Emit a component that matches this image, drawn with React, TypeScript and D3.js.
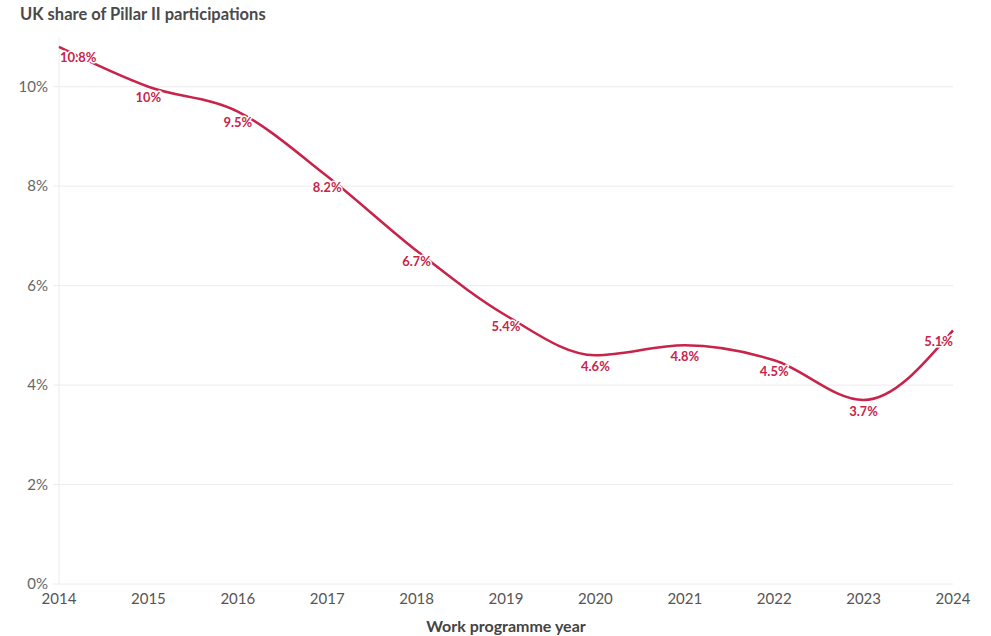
import React from "react";
import * as d3 from "d3";

const years = [2014, 2015, 2016, 2017, 2018, 2019, 2020, 2021, 2022, 2023, 2024];
const shares = [10.8, 10, 9.5, 8.2, 6.7, 5.4, 4.6, 4.8, 4.5, 3.7, 5.1];
const yTicks = [0, 2, 4, 6, 8, 10];
const title = "UK share of Pillar II participations";
const xTitle = "Work programme year";

const W = 991, H = 636;
const M = { left: 59, right: 38, top: 37, bottom: 52 };
const RED = "#c8234a";
const FONT = "Lato, 'Open Sans', sans-serif";

export default function App() {
  const x = d3.scaleLinear().domain([2014, 2024]).range([M.left, W - M.right]);
  const y = d3.scaleLinear().domain([0, 11]).range([H - M.bottom, M.top]);
  const pts = years.map((yr, i) => [x(yr), y(shares[i])] as [number, number]);
  const line = d3.line().curve(d3.curveMonotoneX)(pts) || "";

  return (
    <svg width={W} height={H} style={{ position: "absolute", left: 0, top: 0, fontFamily: FONT }}>
      <rect width={W} height={H} fill="#fff" />
      <text x={20} y={20} fontSize={16.5} fontWeight={700} fill="#4a4a4a">{title}</text>
      {yTicks.map((t) => (
        <g key={t}>
          <line x1={M.left - 6} x2={W - M.right} y1={y(t)} y2={y(t)} stroke="#ececec" strokeWidth={1} />
          <text x={48} y={y(t)} dy="0.35em" textAnchor="end" fontSize={15} fill="#666">{t}%</text>
        </g>
      ))}
      <line x1={M.left} x2={M.left} y1={M.top} y2={H - M.bottom} stroke="#ececec" />
      {years.map((yr) => (
        <text key={yr} x={x(yr)} y={604} textAnchor="middle" fontSize={15} fill="#555">{yr}</text>
      ))}
      <text x={(M.left + W - M.right) / 2} y={632} textAnchor="middle" fontSize={16} fontWeight={700} fill="#444">{xTitle}</text>
      <path d={line} fill="none" stroke={RED} strokeWidth={2.5} />
      {years.map((yr, i) => {
        const px = x(yr);
        const anchor = i === 0 ? "start" : i === years.length - 1 ? "end" : "middle";
        return (
          <text key={yr} x={px + (i === 0 ? 1 : 0)} y={y(shares[i]) + 11} dy="0.35em" textAnchor={anchor}
            fontSize={13} fontWeight={700} fill={RED} stroke="#fff" strokeWidth={3}
            paintOrder="stroke" strokeLinejoin="round">{shares[i]}%</text>
        );
      })}
    </svg>
  );
}
